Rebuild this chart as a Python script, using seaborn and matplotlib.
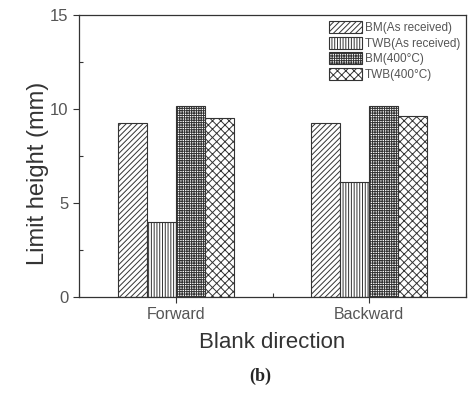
import numpy as np
import pandas as pd
import matplotlib
matplotlib.use("Agg")
import matplotlib.pyplot as plt
from matplotlib.ticker import MultipleLocator
import seaborn as sns

#####----- DATA
directions = ["Forward", "Backward"]
samples = ["BM(As received)", "TWB(As received)", "BM(400\u00b0C)", "TWB(400\u00b0C)"]
bm_as = [9.25, 9.25]
twb_as = [4.0, 6.1]
bm_400 = [10.15, 10.15]
twb_400 = [9.5, 9.65]
hatches = ["//////", "||||||", "+++++++", "xxxx"]

#####----- PLOT
sns.set_style("ticks")
plt.rcParams['font.family'] = ['Liberation Sans', 'DejaVu Sans']
plt.rcParams['hatch.linewidth'] = 0.7

df = pd.DataFrame({
    'direction': directions * 4,
    'sample': np.repeat(samples, len(directions)),
    'height': bm_as + twb_as + bm_400 + twb_400,
})

fig = plt.figure(figsize=(4.72, 4.0), dpi=100)
ax = fig.add_axes([79 / 472, 1 - 297 / 400, (466 - 79) / 472, (297 - 15) / 400])

sns.barplot(data=df, x='direction', y='height', hue='sample', hue_order=samples,
            order=directions, palette=['white'] * 4, edgecolor='#333333',
            linewidth=0.8, width=0.6, ax=ax, legend=False)

for cont, h in zip(ax.containers, hatches):
    for bar in cont:
        bar.set_hatch(h)

ax.set_xlim(-0.5, 1.5)
ax.set_ylim(0, 15)
ax.yaxis.set_major_locator(MultipleLocator(5))
ax.yaxis.set_minor_locator(MultipleLocator(2.5))
ax.xaxis.set_minor_locator(MultipleLocator(0.5))
ax.tick_params(which='major', direction='out', length=4, width=0.8,
               colors='#333333', labelcolor='#555555')
ax.tick_params(axis='y', which='major', labelsize=12)
ax.tick_params(axis='x', which='major', labelsize=11.5)
ax.tick_params(which='minor', direction='in', length=3, width=0.8, colors='#333333')
for s in ax.spines.values():
    s.set_color('#333333')
    s.set_linewidth(0.9)

ax.set_xlabel('Blank direction', fontsize=16, color='#333333')
ax.set_ylabel('Limit height (mm)', fontsize=17, color='#333333')
ax.xaxis.set_label_coords(0.5, -0.125)
ax.yaxis.set_label_coords(-0.078, 0.44)

ax.legend(ax.containers, samples, loc='upper right', frameon=False, fontsize=8.5,
          labelcolor='#555555', handlelength=2.8, handleheight=1.2,
          handletextpad=0.25, labelspacing=0.22, borderaxespad=0.1)

fig.text(260 / 472, 1 - 376 / 400, '(b)', fontsize=13, fontweight='bold',
         family='Liberation Serif', ha='center', va='center')

fig.savefig('out.png', dpi=100)
